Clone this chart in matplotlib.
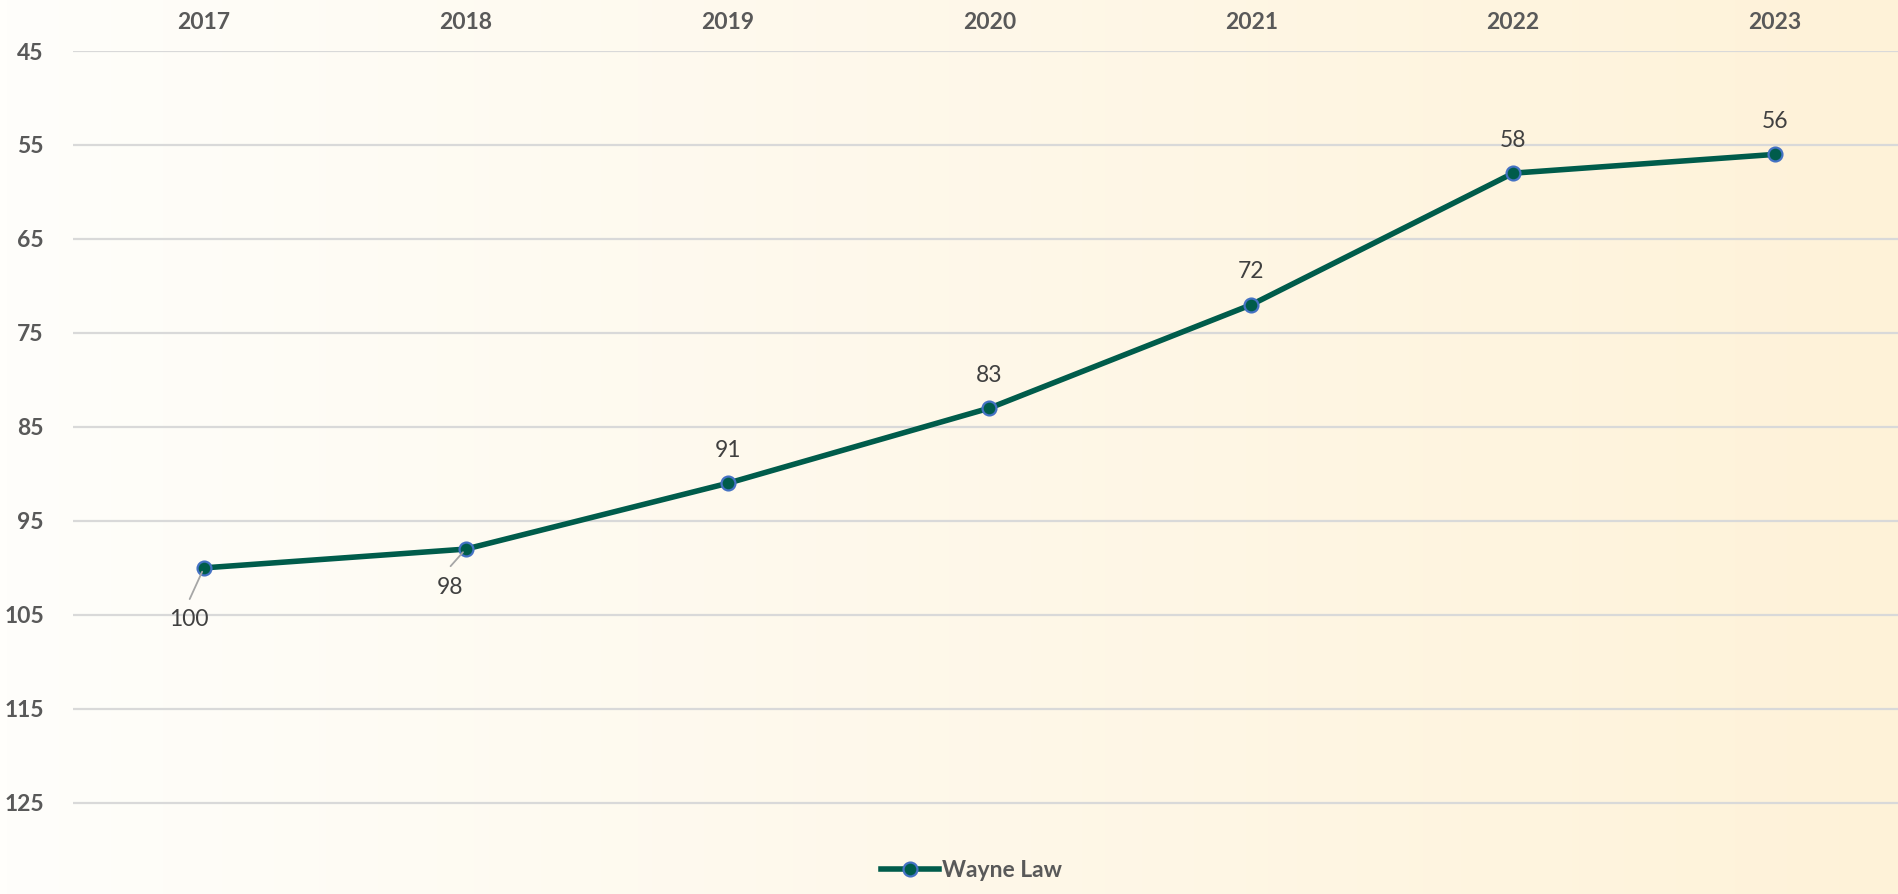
import numpy as np
import matplotlib
matplotlib.use('Agg')
import matplotlib.pyplot as plt
from matplotlib.colors import LinearSegmentedColormap

years = ['2017', '2018', '2019', '2020', '2021', '2022', '2023']
ranks = [100, 98, 91, 83, 72, 58, 56]
y_ticks = [45, 55, 65, 75, 85, 95, 105, 115, 125]
series_name = 'Wayne Law'

LINE_COLOR = '#005C4B'
EDGE_COLOR = '#4472C4'
TEXT_COLOR = '#595959'
LABEL_COLOR = '#404040'

plt.rcParams['font.family'] = ['Lato', 'DejaVu Sans']

fig = plt.figure(figsize=(18.98, 8.94), dpi=100)

# background gradient, white on the left to cream on the right
bg = fig.add_axes([0, 0, 1, 1], zorder=-10)
cmap = LinearSegmentedColormap.from_list('bg', ['#FFFEFB', '#FEF2D8'])
bg.imshow(np.linspace(0, 1, 256).reshape(1, -1), cmap=cmap, aspect='auto',
          extent=[0, 1, 0, 1])
bg.axis('off')

ax = fig.add_axes([73 / 1898, 0.0, 1 - 73 / 1898, 1 - 51 / 894])
ax.patch.set_alpha(0)

x = np.arange(len(years))
ax.plot(x, ranks, color=LINE_COLOR, lw=4.0, marker='o', markersize=10,
        markerfacecolor=LINE_COLOR, markeredgecolor=EDGE_COLOR,
        markeredgewidth=1.6, label=series_name, zorder=3)

ax.set_xlim(-0.5, 6.47)
ax.set_ylim(134.7, 45)
ax.set_yticks(y_ticks)
ax.set_xticks(x)
ax.set_xticklabels(years)
ax.xaxis.tick_top()
ax.tick_params(axis='both', length=0, colors=TEXT_COLOR, labelsize=16.5)
ax.tick_params(axis='x', pad=13)
ax.tick_params(axis='y', pad=21)
for lbl in ax.get_xticklabels() + ax.get_yticklabels():
    lbl.set_fontweight('bold')
ax.grid(axis='y', color='#D9D9D9', lw=1.6)
ax.set_axisbelow(True)
for s in ax.spines.values():
    s.set_visible(False)

# data labels
for i, v in enumerate(ranks):
    if i < 2:
        dx, dy = (-15, -52) if i == 0 else (-16, -38)
        ax.annotate(str(v), (i, v), xytext=(dx, dy), textcoords='offset pixels',
                    ha='center', va='center', fontsize=16.5, color=LABEL_COLOR)
        ax.annotate('', (i, v), xytext=(dx * 0.95, dy * 0.6 if i == 0 else dy * 0.45),
                    textcoords='offset pixels',
                    arrowprops=dict(arrowstyle='-', color='#A6A6A6', lw=1.3,
                                    shrinkA=0, shrinkB=3))
    else:
        ax.annotate(str(v), (i, v), xytext=(0, 33), textcoords='offset pixels',
                    ha='center', va='center', fontsize=16.5, color=LABEL_COLOR)

leg = fig.legend(loc='lower center', bbox_to_anchor=(0.512, -0.008), frameon=False,
                 handlelength=2.5, handletextpad=0.15,
                 prop={'size': 16.5, 'weight': 'bold'})
for t in leg.get_texts():
    t.set_color(TEXT_COLOR)

fig.savefig('out.png', dpi=100)
